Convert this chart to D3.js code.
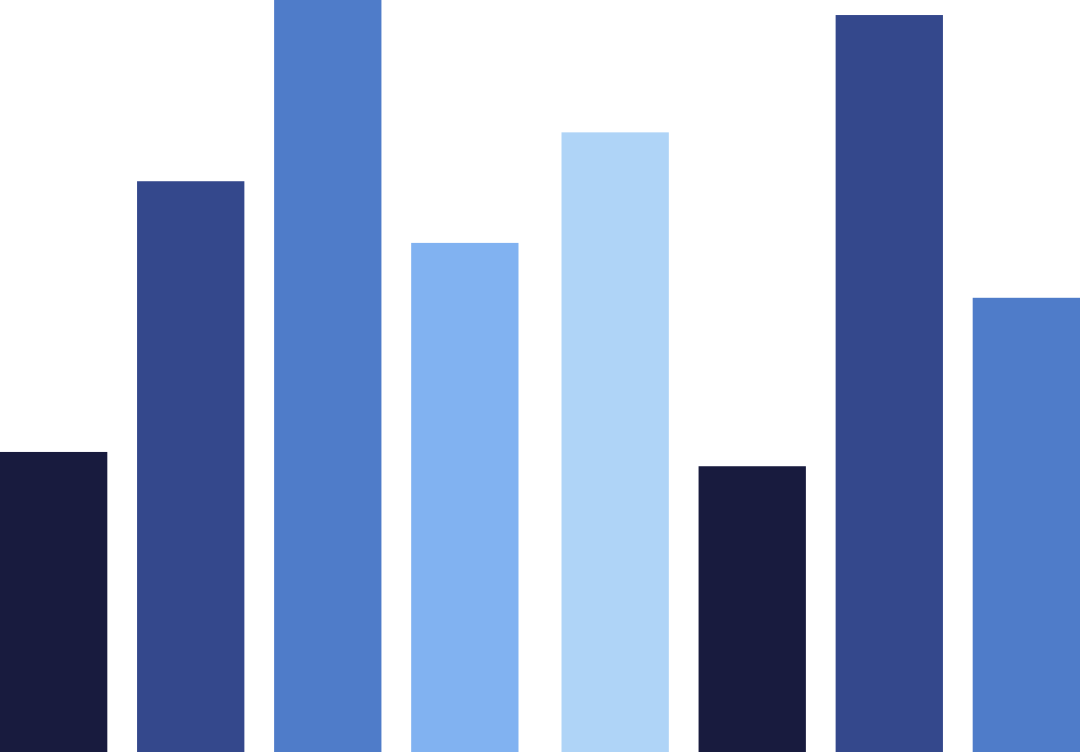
<!DOCTYPE html>
<html>
<head>
<meta charset="utf-8">
<script src="https://cdn.jsdelivr.net/npm/d3@7"></script>
<style>
  html, body { margin: 0; padding: 0; background: #fff; overflow: hidden; }
  #plot { width: 1080px; height: 752px; }
</style>
</head>
<body>
<div id="plot" class="canvas"></div>
<script>
// data (values out of 100)
var groups = ['A', 'B'];
var items = ['1', '2', '3', '4'];
var valuesA = [39.9, 75.9, 100, 67.7];
var valuesB = [82.4, 38.0, 98.0, 60.4];
var colorsA = ['#181b3e', '#34488c', '#4f7cc9', '#81b2f1'];
var colorsB = ['#afd4f7', '#181b3e', '#34488c', '#4f7cc9'];

var width = 1080, height = 752;

var plot = d3.select('#plot')
    .append('svg')
    .attr('width', width)
    .attr('height', height);

var x0 = d3.scaleBand()
    .domain(groups)
    .range([0, width])
    .paddingInner(0.0766)
    .paddingOuter(0);

var x1 = d3.scaleBand()
    .domain(items)
    .range([0, x0.bandwidth()])
    .paddingInner(0.217)
    .paddingOuter(0);

var y = d3.scaleLinear()
    .domain([0, 100])
    .range([height, 0]);

var dataset = [
    {group: 'A', values: valuesA, colors: colorsA},
    {group: 'B', values: valuesB, colors: colorsB}
];

var g = plot.selectAll('.group')
    .data(dataset)
    .enter()
    .append('g')
    .attr('class', 'group')
    .attr('transform', function(d){ return 'translate(' + x0(d.group) + ',0)'; });

g.selectAll('.bar')
    .data(function(d){
        return items.map(function(k, i){ return {key: k, value: d.values[i], color: d.colors[i]}; });
    })
    .enter()
    .append('rect')
    .attr('class', 'bar')
    .attr('x', function(d){ return x1(d.key); })
    .attr('y', function(d){ return y(d.value); })
    .attr('width', x1.bandwidth())
    .attr('height', function(d){ return height - y(d.value); })
    .attr('fill', function(d){ return d.color; });
</script>
</body>
</html>
